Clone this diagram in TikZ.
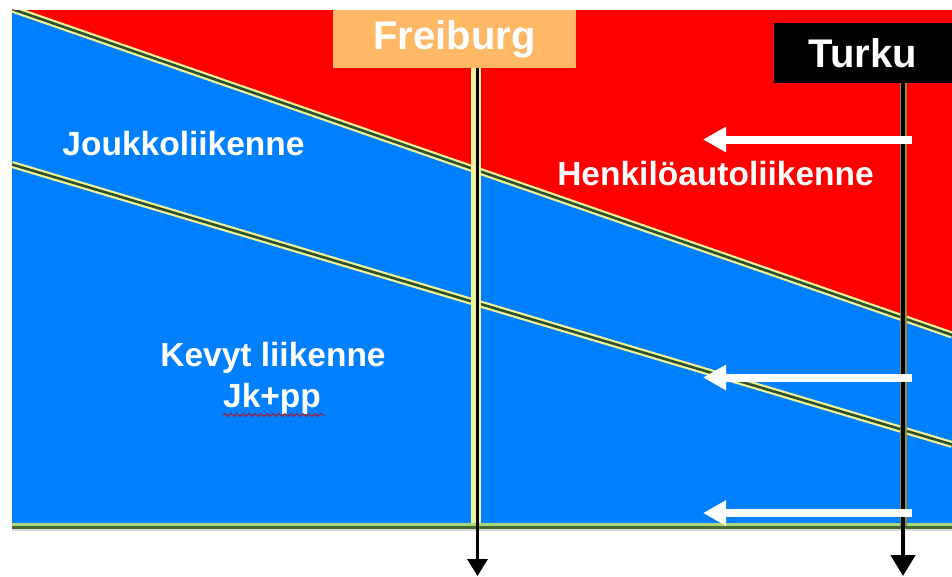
\documentclass[tikz,border=0pt]{standalone}
\usepackage{fontspec}
\setmainfont{Liberation Sans}
\usetikzlibrary{arrows.meta,decorations.pathmorphing}

\definecolor{carred}{RGB}{255,0,0}
\definecolor{transitblue}{RGB}{0,128,255}
\definecolor{boxorange}{RGB}{255,184,102}
\definecolor{bandyellow}{RGB}{240,244,150}
\definecolor{banddark}{RGB}{45,80,48}
\definecolor{edgeolive}{RGB}{150,140,60}
\definecolor{baselight}{RGB}{170,215,120}
\definecolor{basedark}{RGB}{72,104,50}
\definecolor{shadowgrey}{RGB}{215,215,220}

\tikzset{
  zonelabel/.style={font=\bfseries\fontsize{33.5}{36}\selectfont, text=white, inner sep=0pt, anchor=base},
  citybox/.style={font=\bfseries\fontsize{40}{44}\selectfont, text=white, inner sep=0pt},
  splitband/.style={draw=bandyellow, line width=7pt},
  splitcore/.style={draw=banddark, line width=2.6pt},
  shiftarrow/.style={draw=white, line width=8pt, -{Triangle[width=24pt,length=23pt]}},
}

\begin{document}
\begin{tikzpicture}[x=1pt,y=-1pt]
  \useasboundingbox[fill=white] (0,0) rectangle (952,576);

  % corner points of the modal-share chart
  \coordinate (tl) at (12,10);
  \coordinate (tr) at (952,10);
  \coordinate (bl) at (12,526);
  \coordinate (br) at (952,526);

  % ends of the two dividing lines
  \coordinate (upperL) at (12,9);
  \coordinate (upperR) at (952,335);
  \coordinate (lowerL) at (12,164.5);
  \coordinate (lowerR) at (952,444.5);

  % areas: public + light traffic (blue), car traffic (red)
  \fill[transitblue] (tl) rectangle (br);
  \fill[carred] (tl) -- (tr) -- (upperR) -- (upperL) -- cycle;

  % dividing lines
  \begin{scope}
    \clip (tl) rectangle (br);
    \draw[splitband] (upperL) -- (upperR);
    \draw[splitcore] (upperL) -- (upperR);
    \draw[splitband] (lowerL) -- (lowerR);
    \draw[splitcore] (lowerL) -- (lowerR);
  \end{scope}

  % base line
  \fill[shadowgrey] (12,529) rectangle (952,531);
  \fill[baselight] (12,523) rectangle (952,525.5);
  \fill[basedark] (12,525.5) rectangle (952,529);

  % city labels
  \node[citybox, fill=boxorange, minimum width=243pt, minimum height=58pt]
    (freiburg) at (454.5,39) {Freiburg};
  \node[citybox, fill=black, minimum width=178pt, minimum height=60pt]
    (turku) at (863,53) {Turku};

  % city markers
  \coordinate (fbtop) at (476,68);
  \coordinate (fbbase) at (476,523);
  \coordinate (fbcore) at (477.5,68);
  \coordinate (fbend) at (477.5,576);
  \coordinate (tktop) at (903,83);
  \coordinate (tkbase) at (903,526);
  \coordinate (tkend) at (903,576);

  \draw[bandyellow, line width=10pt] (fbtop) -- (fbbase);
  \draw[black, line width=3.5pt, -{Triangle[width=20pt,length=17pt]}] (fbcore) -- (fbend);

  \draw[edgeolive, line width=7pt] (tktop) -- (tkbase);
  \draw[black, line width=4.5pt, -{Triangle[width=24pt,length=21pt]}] (tktop) -- (tkend);

  % shift arrows
  \coordinate (a1s) at (912,139.5);
  \coordinate (a1e) at (703,139.5);
  \coordinate (a2s) at (912,377.5);
  \coordinate (a2e) at (703,377.5);
  \coordinate (a3s) at (912,513);
  \coordinate (a3e) at (703,513);
  \draw[shiftarrow] (a1s) -- (a1e);
  \draw[shiftarrow] (a2s) -- (a2e);
  \draw[shiftarrow] (a3s) -- (a3e);

  % zone labels
  \node[zonelabel] (jl) at (183.5,155) {Joukkoliikenne};
  \node[zonelabel] (hl) at (715.5,185) {Henkilöautoliikenne};
  \node[zonelabel] (kl) at (273,366) {Kevyt liikenne};
  \node[zonelabel] (jk) at (272,407) {Jk+pp};

  % wavy underline below Jk+pp
  \draw[red!85!black, line width=0.8pt,
        decorate, decoration={snake, amplitude=1.4pt, segment length=6pt}]
    (jk.base west) ++(0,8) -- ++(102,0);
\end{tikzpicture}
\end{document}
